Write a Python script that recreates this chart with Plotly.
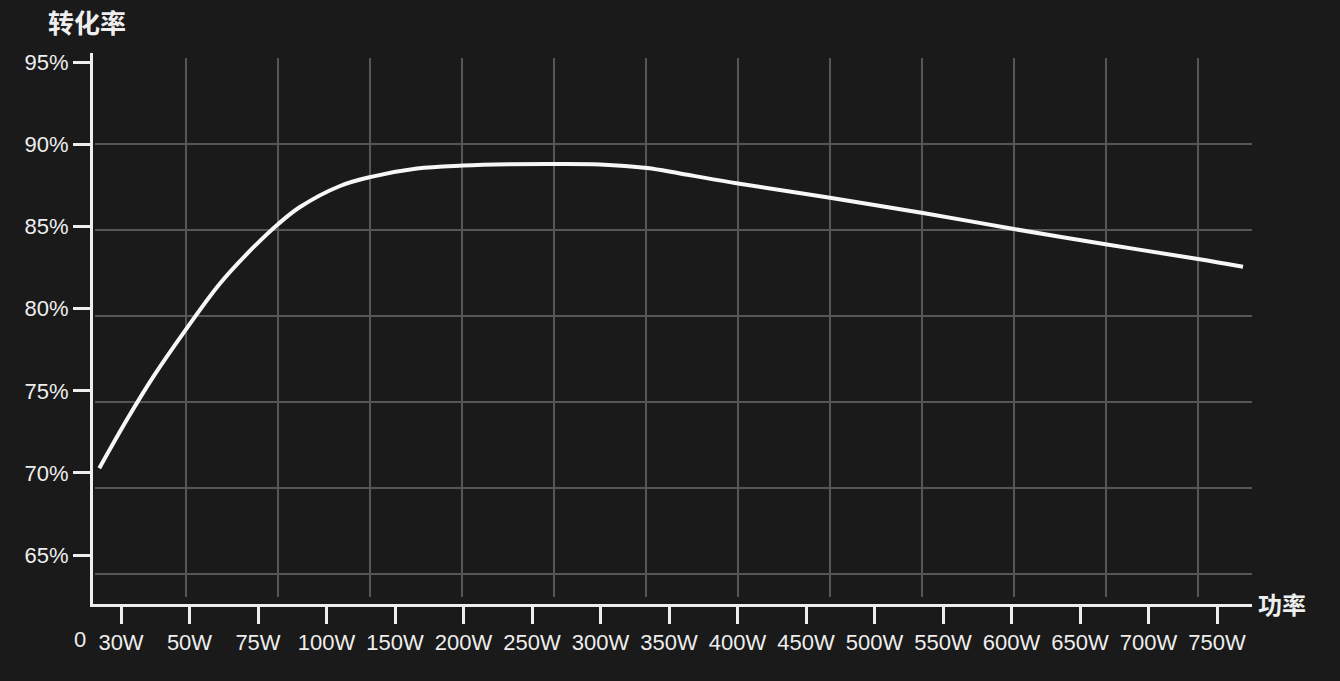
import plotly.graph_objects as go

# ---- data ----
power_labels = ["30W", "50W", "75W", "100W", "150W", "200W", "250W", "300W", "350W",
                "400W", "450W", "500W", "550W", "600W", "650W", "700W", "750W"]
power_pos = list(range(1, len(power_labels) + 1))          # ordinal slots on the power axis
eff_ticks = [65, 70, 75, 80, 85, 90, 95]
eff_labels = [f"{v}%" for v in eff_ticks]

# efficiency curve, x given as position along the (ordinal) power axis
curve_pos = [0.683, 1.083, 1.472, 1.959, 2.445, 2.931, 3.296, 3.613, 4.197, 4.635,
             5.321, 5.993, 6.650, 7.307, 7.993, 8.679, 9.161, 10.007, 11.350,
             12.708, 14.036, 15.394, 16.723, 17.380]
curve_eff = [70.29, 73.22, 75.86, 78.80, 81.53, 83.72, 85.15, 86.18, 87.46, 88.00,
             88.52, 88.70, 88.78, 88.80, 88.77, 88.55, 88.22, 87.61, 86.74,
             85.82, 84.84, 83.90, 83.02, 82.55]

# decorative background grid (independent of the tick marks)
grid_cols = list(range(1, 13))
grid_rows = list(range(1, 7))

BG = "#1a1a1a"
FG = "#eeeeee"
GRID = "#565656"
NUM_FONT = "Liberation Sans, Arial, sans-serif"
CJK_FONT = "Noto Sans CJK SC, sans-serif"

fig = go.Figure()
# grid-holder subplot (drawn first, underneath)
fig.add_trace(go.Scatter(x=[None], y=[None], xaxis="x", yaxis="y",
                         showlegend=False, hoverinfo="skip"))
# data subplot
fig.add_trace(go.Scatter(x=curve_pos, y=curve_eff, xaxis="x2", yaxis="y2", mode="lines",
                         line=dict(color="#f7f7f7", width=4, shape="spline", smoothing=1.0),
                         showlegend=False, hoverinfo="skip"))

fig.update_layout(
    width=1340, height=681,
    margin=dict(l=93, r=88, t=53, b=77),
    paper_bgcolor=BG, plot_bgcolor="rgba(0,0,0,0)",
    showlegend=False,
    xaxis=dict(domain=[0.0017, 1], anchor="y", range=[0.0109, 12.587],
               tickmode="array", tickvals=grid_cols, showticklabels=False, ticks="",
               showgrid=True, gridcolor=GRID, gridwidth=1.5, zeroline=False, showline=False),
    yaxis=dict(domain=[0.0127, 0.9909], anchor="x", range=[0.7326, 7.0],
               tickmode="array", tickvals=grid_rows, showticklabels=False, ticks="",
               showgrid=True, gridcolor=GRID, gridwidth=1.5, zeroline=False, showline=False),
    xaxis2=dict(domain=[0, 1], anchor="y2", range=[0.591, 17.511],
                tickmode="array", tickvals=power_pos, ticktext=power_labels,
                ticks="outside", ticklen=17, tickwidth=3, tickcolor=FG,
                showline=True, linewidth=3, linecolor=FG, showgrid=False, zeroline=False,
                tickfont=dict(family=NUM_FONT, size=22, color=FG)),
    yaxis2=dict(domain=[0, 1], anchor="x2", range=[62.03, 95.55],
                tickmode="array", tickvals=eff_ticks, ticktext=eff_labels,
                ticks="outside", ticklen=17, tickwidth=3, tickcolor=FG,
                showline=True, linewidth=3, linecolor=FG, showgrid=False, zeroline=False,
                tickfont=dict(family=NUM_FONT, size=22, color=FG)),
    annotations=[
        dict(text="<b>转化率</b>", xref="paper", yref="paper", x=-0.0052, y=1.058,
             xanchor="center", yanchor="middle", showarrow=False,
             font=dict(family=CJK_FONT, size=26, color=FG)),
        dict(text="<b>功率</b>", xref="paper", yref="paper", x=1.0259, y=0.0018,
             xanchor="center", yanchor="middle", showarrow=False,
             font=dict(family=CJK_FONT, size=24, color=FG)),
        dict(text="0", xref="paper", yref="paper", x=-0.0112, y=-0.0653,
             xanchor="center", yanchor="middle", showarrow=False,
             font=dict(family=NUM_FONT, size=22, color=FG)),
    ],
)

fig.write_html("out.html", config={"displayModeBar": False},
               post_script="document.body.style.margin='0';document.body.style.background='#1a1a1a';")
